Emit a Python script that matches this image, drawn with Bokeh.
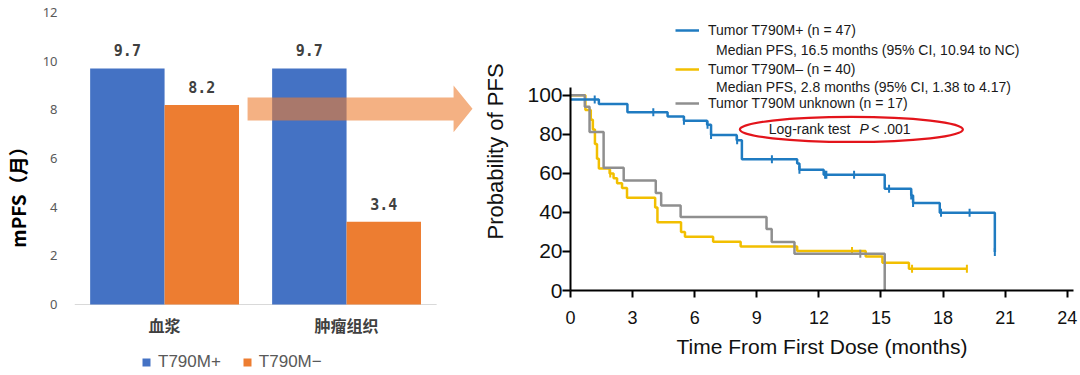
import numpy as np
from bokeh.plotting import figure
from bokeh.layouts import row
from bokeh.models import Range1d, FixedTicker, Legend, LegendItem, Label
from bokeh.embed import file_html
from bokeh.resources import INLINE

# ---------------- data: left bar chart ----------------
categories = ["血浆", "肿瘤组织"]
series_names = ["T790M+", "T790M−"]
mpfs_pos = [9.7, 9.7]
mpfs_neg = [8.2, 3.4]
left_yticks = [0, 2, 4, 6, 8, 10, 12]

# ---------------- data: Kaplan-Meier curves ----------------
blue_t = [0, 1.37, 2.75, 4.69, 5.48, 6.60, 6.79, 8.03, 8.28, 10.95, 11.06, 12.23, 15.18, 16.46, 16.55, 17.84, 20.50]
blue_s = [97.9, 95.6, 91.3, 89.2, 86.9, 84.9, 79.6, 77.0, 67.3, 65.0, 61.9, 59.3, 52.1, 48.7, 44.8, 39.8, 19.7]
blue_cens = [1.17, 4.0, 5.48, 6.62, 6.79, 8.05, 9.73, 11.06, 12.30, 12.36, 13.7, 15.39, 16.46, 16.55, 17.90, 19.28, 20.5]

yel_t = [0, 0.72, 0.98, 1.08, 1.18, 1.28, 1.37, 1.89, 2.08, 2.25, 2.49, 2.73, 4.09, 4.20, 5.34, 5.53, 6.89, 8.22, 10.95, 14.26, 15.07, 16.35, 19.15]
yel_s = [100, 92.5, 87.5, 82.5, 75.0, 67.5, 62.5, 60.0, 57.5, 55.0, 52.5, 47.5, 42.5, 35.0, 30.0, 27.5, 25.0, 22.5, 20.2, 17.4, 14.2, 11.1, 11.1]
yel_cens = [1.92, 13.6, 16.5, 19.15]

gray_t = [0, 0.69, 0.92, 1.60, 2.57, 4.12, 4.38, 5.32, 9.47, 9.72, 10.82, 15.18]
gray_s = [100, 94.1, 81.2, 62.9, 56.4, 49.9, 43.6, 37.6, 31.5, 24.8, 18.8, 0]
gray_cens = [14.0]

km_xticks = [0, 3, 6, 9, 12, 15, 18, 21, 24]
km_yticks = [0, 20, 40, 60, 80, 100]
km_labels = ["Tumor T790M+ (n = 47)", "Tumor T790M– (n = 40)", "Tumor T790M unknown (n = 17)"]
km_medians = ["Median PFS, 16.5 months (95% CI, 10.94 to NC)",
              "Median PFS, 2.8 months (95% CI, 1.38 to 4.17)"]

BLUE_BAR, ORANGE_BAR = "#4472C4", "#ED7D31"
C_BLUE, C_YEL, C_GRAY = "#1F7BC1", "#F2BF00", "#8F8F8F"
SANS = "Liberation Sans"
CJK = "Noto Sans CJK SC"

# ================= left: bar chart =================
left = figure(width=480, height=372, x_range=Range1d(-0.495, 1.736), y_range=Range1d(-2.795, 12),
              output_backend="svg", toolbar_location=None, frame_align=False,
              min_border_left=74, min_border_right=0, min_border_top=12, min_border_bottom=0)
left.outline_line_color = None
left.grid.visible = False
left.xaxis.visible = False

idx = np.arange(len(categories))
bw = 0.409
left.segment(x0=[-0.495], y0=[0], x1=[len(categories) - 1 + 0.495], y1=[0],
             line_color="#D9D9D9", line_width=1.2)
r_pos = left.vbar(x=idx - bw / 2, top=mpfs_pos, width=bw, fill_color=BLUE_BAR, line_color=None)
r_neg = left.vbar(x=idx + bw / 2, top=mpfs_neg, width=bw, fill_color=ORANGE_BAR, line_color=None)

for xs, vals in ((idx - bw / 2, mpfs_pos), (idx + bw / 2, mpfs_neg)):
    left.text(x=list(xs), y=vals, text=[f"{v:.1f}" for v in vals], text_align="center",
              text_baseline="middle", y_offset=-18, text_font={"value": "DejaVu Sans Mono"},
              text_font_style="bold", text_font_size="15px", text_color="#404040")

# category labels under the baseline
left.text(x=list(idx), y=[0] * len(categories), text=categories, text_align="center",
          text_baseline="middle", y_offset=21, text_font={"value": CJK}, text_font_style="bold",
          text_font_size="16px", text_color="#404040")

# arrow
left.patch(x=[0.456, 1.588, 1.588, 1.692, 1.588, 1.588, 0.456],
           y=[8.51, 8.51, 9.0, 8.04, 7.08, 7.56, 7.56],
           fill_color=ORANGE_BAR, fill_alpha=0.6, line_color=None)

left.yaxis.ticker = FixedTicker(ticks=left_yticks)
left.yaxis.bounds = (0, 12)
left.yaxis.axis_line_color = None
left.yaxis.major_tick_line_color = None
left.yaxis.minor_tick_line_color = None
left.yaxis.major_label_text_font = "Noto Sans"
left.yaxis.major_label_text_font_size = "13px"
left.yaxis.major_label_text_color = "#595959"
left.yaxis.major_label_standoff = 11
left.yaxis.axis_label = "mPFS（月）"
left.yaxis.axis_label_text_font = CJK
left.yaxis.axis_label_text_font_size = "19px"
left.yaxis.axis_label_text_font_style = "bold"
left.yaxis.axis_label_text_color = "#000000"
left.yaxis.axis_label_standoff = 9

leg_left = Legend(items=[LegendItem(label=series_names[0], renderers=[r_pos]),
                         LegendItem(label=series_names[1], renderers=[r_neg])],
                  orientation="horizontal", location=(67, 0), padding=0, margin=0,
                  spacing=21, glyph_width=10, glyph_height=10, label_standoff=7,
                  label_text_font=SANS, label_text_font_size="17px", label_text_color="#595959",
                  border_line_color=None, background_fill_alpha=0)
left.add_layout(leg_left)

# ================= right: KM chart =================
right = figure(width=598, height=372, x_range=Range1d(0, 24.3), y_range=Range1d(0, 142.42),
               output_backend="svg", toolbar_location=None, frame_align=False,
               min_border_left=88, min_border_right=5, min_border_top=12, min_border_bottom=82)
right.outline_line_color = None
right.grid.visible = False

def censor_y(ts, ss, cens):
    ts = np.asarray(ts); ss = np.asarray(ss)
    return [float(ss[np.searchsorted(ts, c, side="right") - 1]) for c in cens]

r_yel = right.step(x=yel_t, y=yel_s, mode="after", line_color=C_YEL, line_width=2.5)
right.scatter(x=yel_cens, y=censor_y(yel_t, yel_s, yel_cens), marker="dash", angle=np.pi / 2,
              size=8, line_color=C_YEL, line_width=2)
r_gray = right.step(x=gray_t, y=gray_s, mode="after", line_color=C_GRAY, line_width=2.5)
right.scatter(x=gray_cens, y=censor_y(gray_t, gray_s, gray_cens), marker="dash", angle=np.pi / 2,
              size=8, line_color=C_GRAY, line_width=2)
r_blue = right.step(x=blue_t, y=blue_s, mode="after", line_color=C_BLUE, line_width=2.5)
right.scatter(x=blue_cens, y=censor_y(blue_t, blue_s, blue_cens), marker="dash", angle=np.pi / 2,
              size=8, line_color=C_BLUE, line_width=2)

for ax in (right.xaxis, right.yaxis):
    ax.axis_line_color = "black"
    ax.axis_line_width = 2
    ax.major_tick_line_color = "black"
    ax.major_tick_line_width = 2
    ax.major_tick_in = 0
    ax.minor_tick_line_color = None
    ax.major_label_text_color = "#111111"
    ax.axis_label_text_color = "#111111"
    ax.axis_label_text_font_style = "normal"

right.xaxis.ticker = FixedTicker(ticks=km_xticks)
right.xaxis.major_tick_out = 7
right.xaxis.major_label_text_font = SANS
right.xaxis.major_label_text_font_size = "18px"
right.xaxis.major_label_standoff = 13
right.xaxis.axis_label = "Time From First Dose (months)"
right.xaxis.axis_label_text_font = SANS
right.xaxis.axis_label_text_font_size = "21px"
right.xaxis.axis_label_standoff = 8

right.yaxis.ticker = FixedTicker(ticks=km_yticks)
right.yaxis.bounds = (0, 104)
right.yaxis.major_tick_out = 8
right.yaxis.major_label_text_font = SANS
right.yaxis.major_label_text_font_size = "21px"
right.yaxis.major_label_standoff = 0
right.yaxis.axis_label = "Probability of PFS"
right.yaxis.axis_label_text_font = SANS
right.yaxis.axis_label_text_font_size = "22px"
right.yaxis.axis_label_standoff = 16

def km_legend(label, renderer, vy):
    return Legend(items=[LegendItem(label=label, renderers=[renderer])], location=(105, vy),
                  padding=0, margin=0, glyph_width=24, glyph_height=16, label_height=16,
                  label_standoff=9, label_text_font=SANS, label_text_font_size="14px",
                  label_text_color="#1a1a1a", border_line_color=None, background_fill_alpha=0)

right.add_layout(km_legend(km_labels[0], r_blue, 252))
right.add_layout(km_legend(km_labels[1], r_yel, 213))
right.add_layout(km_legend(km_labels[2], r_gray, 179))

for txt, yv in zip(km_medians, (123.0, 104.5)):
    right.add_layout(Label(x=7.03, y=yv, text=txt, text_baseline="middle", text_font=SANS,
                           text_font_size="14px", text_color="#1a1a1a"))

right.ellipse(x=[13.57], y=[82.5], width=[223], height=[25], width_units="screen",
              height_units="screen", fill_color=None, line_color="#E3141B", line_width=2.2)
right.add_layout(Label(x=9.58, y=82.5, text="Log-rank test", text_baseline="middle",
                       text_font=SANS, text_font_size="14px", text_color="#1a1a1a"))
right.add_layout(Label(x=13.96, y=82.5, text="P", text_baseline="middle", text_font=SANS,
                       text_font_style="italic", text_font_size="14px", text_color="#1a1a1a"))
right.add_layout(Label(x=14.53, y=82.5, text="< .001", text_baseline="middle", text_font=SANS,
                       text_font_size="14px", text_color="#1a1a1a"))

layout = row(left, right, spacing=0)
open("out.html", "w").write(file_html(layout, INLINE))
